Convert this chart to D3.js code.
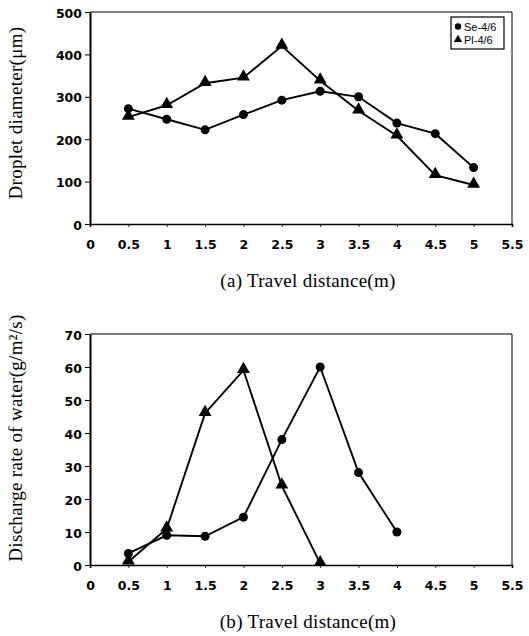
<!DOCTYPE html>
<html>
<head>
<meta charset="utf-8">
<script src="https://cdn.jsdelivr.net/npm/d3@7"></script>
<style>
  body { margin: 0; background: #fff; }
  svg { display: block; }
  .tick text { font-family: "DejaVu Sans", Arial, sans-serif; font-weight: bold; font-size: 12.5px; fill: #000; }
  .title { font-family: "Liberation Serif", "Times New Roman", serif; font-size: 19px; letter-spacing: 0.3px; fill: #000; }
</style>
</head>
<body>
<svg id="chart" width="529" height="636"></svg>
<script>
// x positions (travel distance, m)
const xTicks = [0, 0.5, 1, 1.5, 2, 2.5, 3, 3.5, 4, 4.5, 5, 5.5];

// (a) droplet diameter (um)
const distA = [0.5, 1, 1.5, 2, 2.5, 3, 3.5, 4, 4.5, 5];
const seDiameter = [272, 247, 222, 258, 292, 313, 300, 238, 213, 133];
const plDiameter = [252, 280, 332, 345, 420, 338, 267, 208, 115, 92];
const yTicksA = [0, 100, 200, 300, 400, 500];

// (b) discharge rate of water (g/m2/s)
const seDist = [0.5, 1, 1.5, 2, 2.5, 3, 3.5, 4];
const seDischarge = [3.5, 9, 8.7, 14.5, 38, 60, 28, 10];
const plDist = [0.5, 1, 1.5, 2, 2.5, 3];
const plDischarge = [1, 11, 46, 59, 24, 0.5];
const yTicksB = [0, 10, 20, 30, 40, 50, 60, 70];

const legendNames = ["Se-4/6", "Pl-4/6"];

const svg = d3.select("#chart");

function panel(opts) {
  const x = d3.scaleLinear().domain([0, 5.5]).range([90, 512]);
  const y = d3.scaleLinear().domain([0, opts.yMax]).range([opts.bottom, opts.top]);
  const g = svg.append("g");

  // frame top/right
  g.append("path")
    .attr("d", `M${x(0)},${y(opts.yMax)}H${x(5.5)}V${y(0)}`)
    .attr("fill", "none").attr("stroke", "#000").attr("stroke-width", 1);

  const xAxis = g.append("g")
    .attr("transform", `translate(0,${y(0)})`)
    .call(d3.axisBottom(x).tickValues(xTicks).tickSize(3).tickPadding(13)
      .tickFormat(d => d));
  xAxis.select(".domain").attr("stroke-width", 1.6);
  xAxis.selectAll(".tick line").attr("stroke-width", 0.8);

  const yAxis = g.append("g")
    .attr("transform", `translate(${x(0)},0)`)
    .call(d3.axisLeft(y).tickValues(opts.yTicks).tickSize(5).tickSizeOuter(0).tickPadding(3));
  yAxis.select(".domain").attr("stroke-width", 2);
  yAxis.selectAll(".tick text").attr("dy", "0.4em");

  const line = d3.line().x(d => x(d[0])).y(d => y(d[1]));
  const tri = d3.symbol().type(d3.symbolTriangle).size(72);

  opts.series.forEach(s => {
    const pts = s.xs.map((v, i) => [v, s.ys[i]]);
    g.append("path").datum(pts).attr("d", line)
      .attr("fill", "none").attr("stroke", "#000").attr("stroke-width", 1.9);
    if (s.shape === "circle") {
      g.selectAll(null).data(pts).join("circle")
        .attr("cx", d => x(d[0])).attr("cy", d => y(d[1])).attr("r", 4.5).attr("fill", "#000");
    } else {
      g.selectAll(null).data(pts).join("path")
        .attr("transform", d => `translate(${x(d[0])},${y(d[1]) - 1})`)
        .attr("d", tri).attr("fill", "#000");
    }
  });

  g.append("text").attr("class", "title")
    .attr("x", 308).attr("y", opts.xTitleY).attr("text-anchor", "middle")
    .text(opts.xTitle);

  g.append("text").attr("class", "title")
    .attr("transform", `translate(22,${opts.yTitleY}) rotate(-90)`)
    .attr("text-anchor", "middle")
    .text(opts.yTitle);
  return g;
}

panel({
  yMax: 500, top: 12, bottom: 224, yTicks: yTicksA,
  series: [
    { xs: distA, ys: seDiameter, shape: "circle" },
    { xs: distA, ys: plDiameter, shape: "triangle" }
  ],
  xTitle: "(a)  Travel distance(m)", xTitleY: 287,
  yTitle: "Droplet diameter(\u03bcm)", yTitleY: 113
});

panel({
  yMax: 70, top: 334, bottom: 565, yTicks: yTicksB,
  series: [
    { xs: seDist, ys: seDischarge, shape: "circle" },
    { xs: plDist, ys: plDischarge, shape: "triangle" }
  ],
  xTitle: "(b)  Travel distance(m)", xTitleY: 628,
  yTitle: "Discharge rate of water(g/m\u00b2/s)", yTitleY: 438
});

// legend
const lg = svg.append("g").attr("transform", "translate(451,17)");
lg.append("rect").attr("width", 53).attr("height", 32)
  .attr("fill", "#fff").attr("stroke", "#000").attr("stroke-width", 1.2);
legendNames.forEach((name, i) => {
  const row = lg.append("g").attr("transform", `translate(0,${9.5 + i * 13})`);
  if (i === 0) {
    row.append("circle").attr("cx", 7).attr("cy", 0).attr("r", 3.2).attr("fill", "#000");
  } else {
    row.append("path").attr("transform", "translate(7,0)")
      .attr("d", d3.symbol().type(d3.symbolTriangle).size(30)).attr("fill", "#000");
  }
  row.append("text").attr("x", 13).attr("y", 4)
    .style("font-family", "'Liberation Sans', Arial, sans-serif")
    .style("font-size", "11px").text(name);
});
</script>
</body>
</html>
